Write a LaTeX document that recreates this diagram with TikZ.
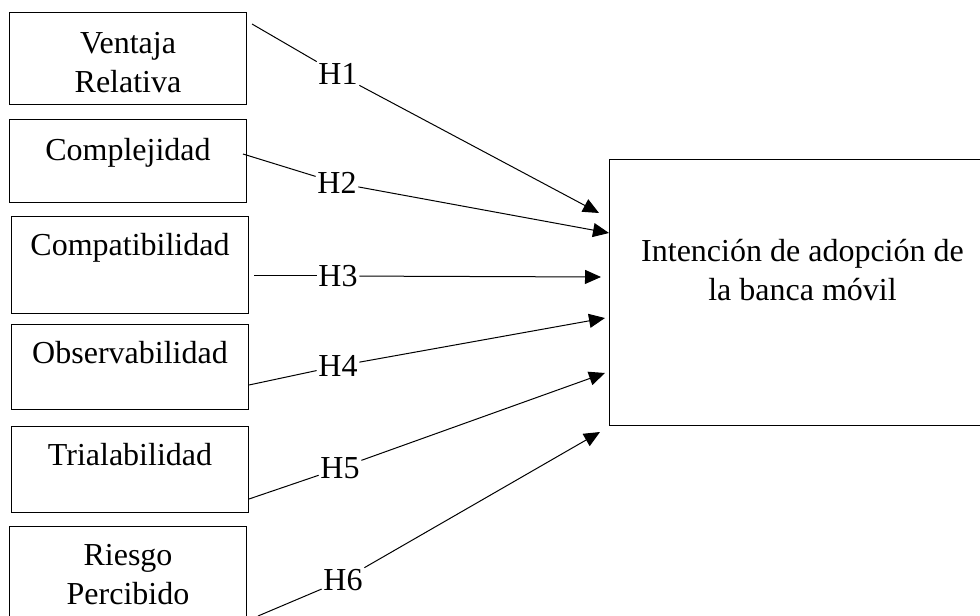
\documentclass[tikz,border=0pt]{standalone}
\usepackage{fontspec}
\setmainfont{Liberation Serif}
\usepackage{tikz}
\usetikzlibrary{arrows.meta}

\begin{document}
\begin{tikzpicture}[
    x=0.75pt, y=-0.75pt,
    line width=0.75pt,
    factor/.style={rectangle, draw, anchor=north west, inner sep=0pt, minimum width=177.75pt, align=center, font=\fontsize{24}{29.6}\selectfont},
    target/.style={factor, minimum width=289.5pt},
    hyp/.style={inner sep=1pt, font=\fontsize{24}{29.6}\selectfont},
    link/.style={line width=0.75pt},
    arrow/.style={link, -{Triangle[length=12pt, width=10.5pt]}},
]
\useasboundingbox (0,0) rectangle (980,616);

% Factores de innovacion
\node[factor, text height=60pt, text depth=9pt] (vr) at (9,12) {Ventaja\\Relativa};
\node[factor, text height=30.75pt, text depth=31.5pt] (cx) at (9,119) {Complejidad};
\node[factor, text height=29.25pt, text depth=43.5pt] (cp) at (11,216) {Compatibilidad};
\node[factor, text height=29.25pt, text depth=34.5pt] (ob) at (11,324) {Observabilidad};
\node[factor, text height=29.25pt, text depth=35.25pt] (tr) at (11,426) {Trialabilidad};
\node[factor, text height=58.5pt, text depth=19.5pt] (rp) at (9,526) {Riesgo\\Percibido};

% Variable dependiente
\node[target, text height=105.75pt, text depth=93.75pt] (ia) at (609,159) {Intención de adopción de\\la banca móvil};

% Hipotesis
\node[hyp] (h1) at (338,74) {H1};
\node[hyp] (h2) at (337,183) {H2};
\node[hyp] (h3) at (338,276) {H3};
\node[hyp] (h4) at (338,366) {H4};
\node[hyp] (h5) at (340,468) {H5};
\node[hyp] (h6) at (343,580) {H6};

% Extremos de las flechas
\coordinate (s1) at (252,24);   \coordinate (e1) at (599,213);
\coordinate (s2) at (243,154);  \coordinate (e2) at (609,233);
\coordinate (s3) at (254,276);  \coordinate (e3) at (601,277);
\coordinate (s4) at (249,385);  \coordinate (e4) at (605,318);
\coordinate (s5) at (249,499);  \coordinate (e5) at (605,373);
\coordinate (s6) at (258,616);  \coordinate (e6) at (600,432);

% Flechas
\draw[link] (s1) -- (h1);
\draw[arrow] (h1) -- (e1);
\draw[link] (s2) -- (h2);
\draw[arrow] (h2) -- (e2);
\draw[link] (s3) -- (h3);
\draw[arrow] (h3) -- (e3);
\draw[link] (s4) -- (h4);
\draw[arrow] (h4) -- (e4);
\draw[link] (s5) -- (h5);
\draw[arrow] (h5) -- (e5);
\draw[link] (s6) -- (h6);
\draw[arrow] (h6) -- (e6);

\end{tikzpicture}
\end{document}
